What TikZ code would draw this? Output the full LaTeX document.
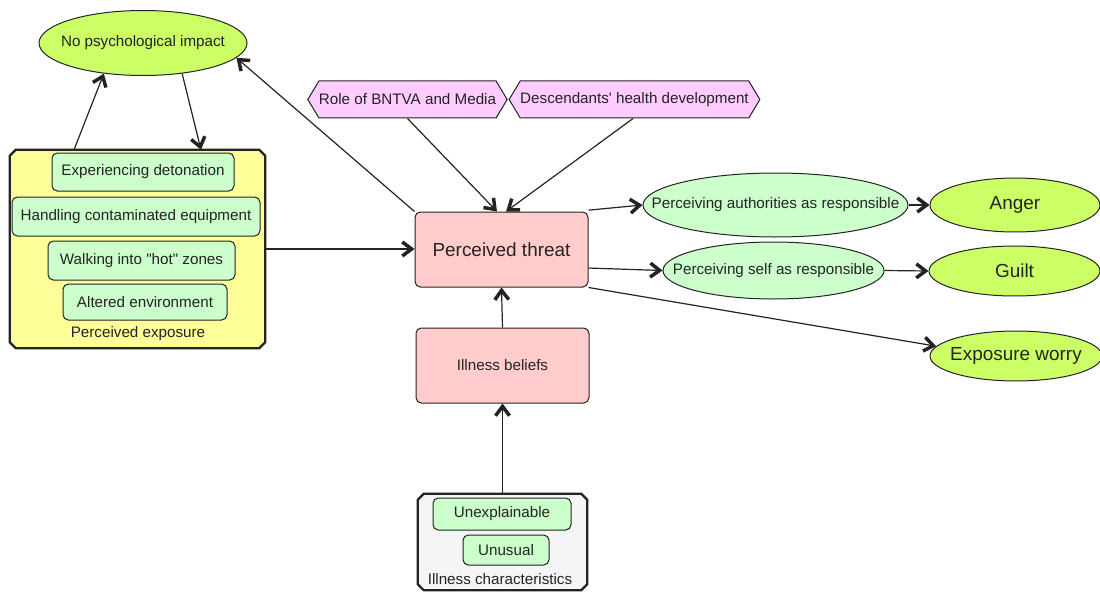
\documentclass[tikz,border=0pt]{standalone}
\usepackage{fontspec}
\setmainfont{Liberation Sans}[Ligatures=TeXOff]
\usetikzlibrary{arrows.meta,shapes.geometric,shapes.symbols}
\definecolor{lime}{RGB}{204,255,102}
\definecolor{mint}{RGB}{204,255,204}
\definecolor{rosy}{RGB}{255,204,204}
\definecolor{lilac}{RGB}{255,204,255}
\definecolor{lemon}{RGB}{255,255,153}
\definecolor{pale}{RGB}{245,245,245}
\definecolor{ink}{RGB}{35,35,35}
\newcommand{\smallfs}{\fontsize{11.4pt}{13pt}\selectfont}
\newcommand{\bigfs}{\fontsize{14.2pt}{16pt}\selectfont}
\newcommand{\cut}{4.5pt}
\tikzset{
  sz/.style 2 args={minimum width=#1*0.75pt, minimum height=#2*0.75pt},
  base/.style={draw=ink, line width=0.75pt, inner sep=0pt, text=ink, font=\smallfs},
  item/.style={base, fill=mint, rounded corners=4pt},
  threatbox/.style={base, fill=rosy, rounded corners=4pt},
  oval/.style={base, ellipse},
  hexa/.style={base, fill=lilac, signal, signal to=west and east, signal pointer angle=118},
  group/.style={draw=none, inner sep=0pt},
  groupline/.style={draw=ink, line width=1.8pt, line join=round},
  arr/.style={draw=ink, line width=0.9pt, -{Straight Barb[length=7pt,width=10.5pt,line width=2.6pt]}},
}
% chamfered outline around a named group node
\newcommand{\chamfer}[2]{%
  \path[groupline, fill=#2]
    ([xshift=\cut]#1.north west) -- ([xshift=-\cut]#1.north east)
    -- ([yshift=-\cut]#1.north east) -- ([yshift=\cut]#1.south east)
    -- ([xshift=-\cut]#1.south east) -- ([xshift=\cut]#1.south west)
    -- ([yshift=\cut]#1.south west) -- ([yshift=-\cut]#1.north west) -- cycle;}
\begin{document}
\begin{tikzpicture}[x=0.75pt, y=-0.75pt]
\useasboundingbox (0,0) rectangle (1100,592);

% exposure cluster
\node[group, sz={255}{198}] (exp) at (137.5,249) {};
\chamfer{exp}{lemon}
\node[item, sz={182}{38}] (e1) at (143,172) {Experiencing detonation};
\node[item, sz={248}{39}] (e2) at (136,216.5) {Handling contaminated equipment};
\node[item, sz={187}{39}] (e3) at (141.5,260.5) {Walking into "hot" zones};
\node[item, sz={164}{36}] (e4) at (145,302) {Altered environment};
\node[text=ink, font=\smallfs] (explab) at (138,334) {Perceived exposure};

% outcome without impact
\node[oval, fill=lime, sz={208}{65}, label={[text=ink, font=\smallfs]center:No psychological impact}] (nopsy) at (143,43) {};

% central boxes
\node[threatbox, sz={173}{75}, font=\bigfs] (pt) at (501.5,249.5) {Perceived threat};
\node[threatbox, sz={173}{75}] (ib) at (502.5,365.5) {Illness beliefs};

% illness characteristics cluster
\node[group, sz={169}{96}] (ic) at (502.5,542) {};
\chamfer{ic}{pale}
\node[item, sz={138}{32}] (u1) at (502,514) {Unexplainable};
\node[item, sz={86}{30}] (u2) at (506,550) {Unusual};
\node[text=ink, font=\smallfs] (iclab) at (500,579) {Illness characteristics};

% contextual factors
\node[hexa, sz={191}{37}] (h1) at (407.5,99.5) {Role of BNTVA and Media};
\node[hexa, sz={249}{37}] (h2) at (634.5,99.5) {Descendants' health development};

% attributions
\node[oval, fill=mint, sz={265}{64}, label={[text=ink, font=\smallfs]center:Perceiving authorities as responsible}] (pa) at (775.5,205) {};
\node[oval, fill=mint, sz={221}{57}, label={[text=ink, font=\smallfs]center:Perceiving self as responsible}] (ps) at (773.5,270.5) {};

% emotions
\node[oval, fill=lime, sz={170}{54}, label={[text=ink, font=\bigfs]center:Anger}] (anger) at (1015,205) {};
\node[oval, fill=lime, sz={171}{50}, label={[text=ink, font=\bigfs]center:Guilt}] (guilt) at (1014.5,271) {};
\node[oval, fill=lime, sz={172}{50}, label={[text=ink, font=\bigfs]center:Exposure worry}] (worry) at (1016,356) {};

% connectors
\draw[arr] ([xshift=-47.6pt]exp.north) -- (nopsy.218);
\draw[arr] (nopsy.322) -- ([xshift=47.6pt]exp.north);
\draw[arr] (exp.east) -- (exp.east -| pt.west);
\draw[arr] (pt.north west) -- (nopsy.351);
\draw[arr] (h1.south) -- ([xshift=-3.4pt]pt.north);
\draw[arr] ([xshift=-1.1pt]h2.south) -- ([xshift=3.4pt]pt.north);
\draw[arr] ([yshift=1pt]pt.north east) -- (pa.west);
\draw[arr] ([yshift=-13.9pt]pt.east) -- (ps.west);
\draw[arr] (pt.south east) -- (worry.173);
\draw[arr] (pa.east) -- (anger.west);
\draw[arr] (ps.east) -- (guilt.west);
\draw[arr] (ib.north) -- (pt.south);
\draw[arr] (ic.north) -- (ib.south);
\end{tikzpicture}
\end{document}
